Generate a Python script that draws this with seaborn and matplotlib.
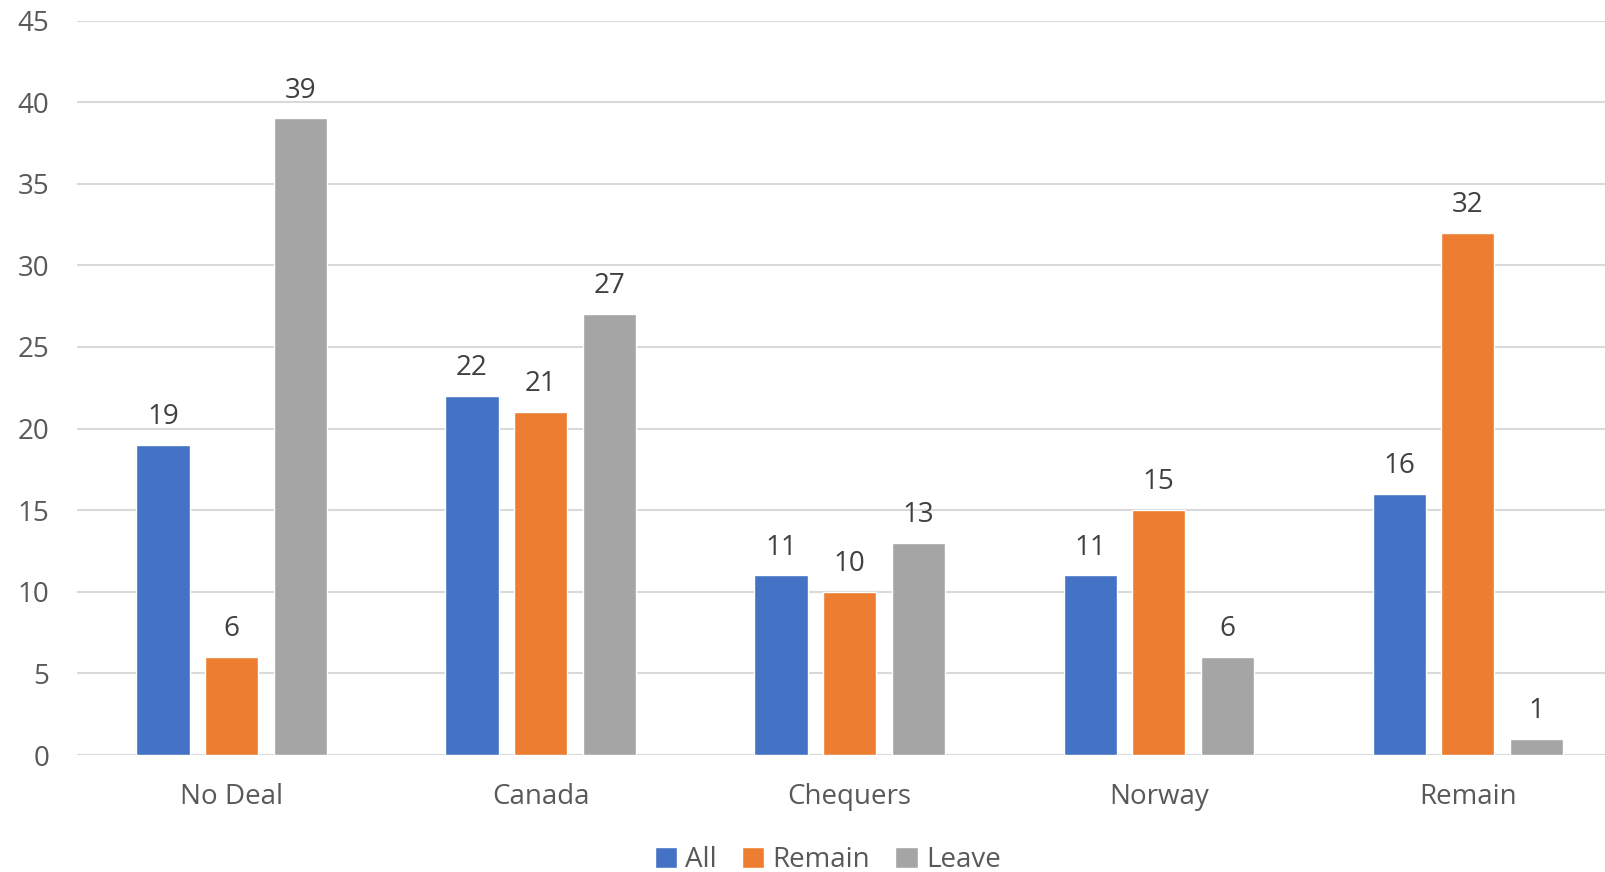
import matplotlib
matplotlib.use("Agg")
import matplotlib.pyplot as plt
import pandas as pd
import seaborn as sns

categories = ["No Deal", "Canada", "Chequers", "Norway", "Remain"]
groups = ["All", "Remain", "Leave"]
all_vals = [19, 22, 11, 11, 16]
remain_vals = [6, 21, 10, 15, 32]
leave_vals = [39, 27, 13, 6, 1]
colors = ["#4472C4", "#ED7D31", "#A5A5A5"]

df = pd.DataFrame({
    "option": categories * 3,
    "group": [g for g in groups for _ in categories],
    "value": all_vals + remain_vals + leave_vals,
})

sns.set_style("white")
plt.rcParams["font.family"] = ["Open Sans", "DejaVu Sans"]
text_col = "#595959"
fs = 20

fig = plt.figure(figsize=(16.06, 8.72), dpi=100)
ax = fig.add_axes([77 / 1606, 117 / 872, 1 - 77 / 1606, (755 - 20.5) / 872])

sns.barplot(data=df, x="option", y="value", hue="group", palette=colors,
            width=0.666, gap=0.225, ax=ax, saturation=1, errorbar=None)

for c in ax.containers:
    ax.bar_label(c, padding=10, fontsize=fs, color="#404040")

ax.set_ylim(0, 45)
ax.set_xlim(-0.5, 4.447)
ax.set_yticks(range(0, 46, 5))
ax.yaxis.grid(True, color="#D9D9D9", linewidth=1.5)
ax.set_axisbelow(True)
for s in ax.spines.values():
    s.set_visible(False)
ax.tick_params(axis="both", length=0, labelsize=fs, colors=text_col)
ax.tick_params(axis="y", pad=20)
ax.tick_params(axis="x", pad=20)
ax.set_xlabel("")
ax.set_ylabel("")

ax.legend(loc="center", bbox_to_anchor=(0.491, -0.143), ncol=3, frameon=False,
          fontsize=fs, labelcolor=text_col, handlelength=0.8, handleheight=0.8,
          handletextpad=0.3, columnspacing=0.9)

fig.savefig("out.png", dpi=100)
